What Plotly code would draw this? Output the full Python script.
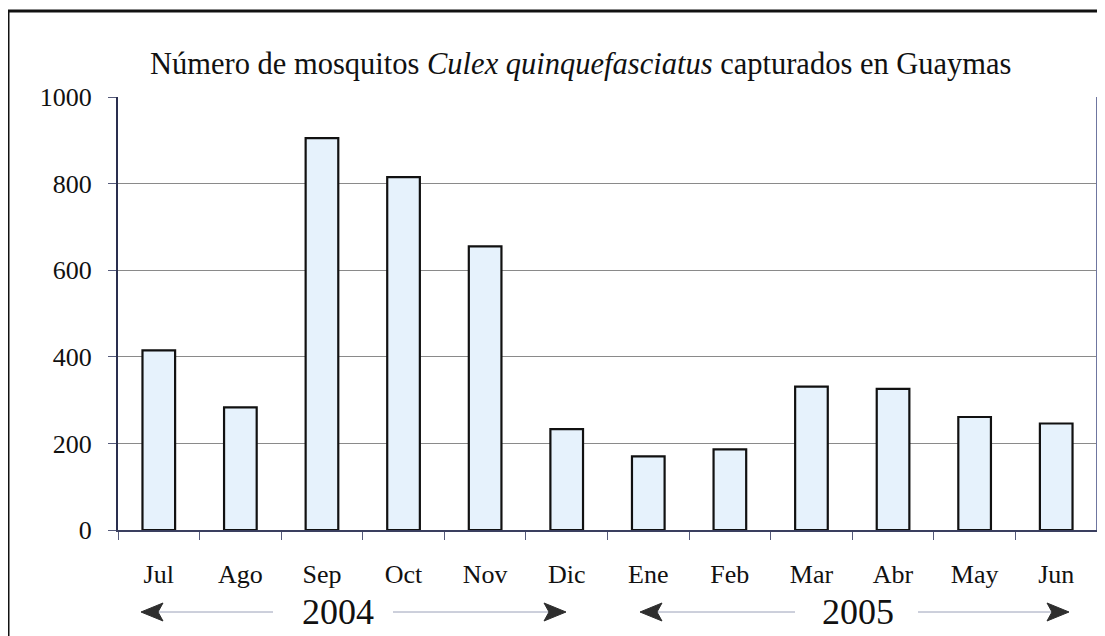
import plotly.graph_objects as go

months = ["Jul", "Ago", "Sep", "Oct", "Nov", "Dic", "Ene", "Feb", "Mar", "Abr", "May", "Jun"]
counts = [415, 283, 905, 815, 655, 233, 170, 186, 331, 326, 261, 246]
y_ticks = [0, 200, 400, 600, 800, 1000]
years = ["2004", "2005"]

# page has an 8px body margin; work in page pixels and convert
OFF = 8
W, H = 1105 - OFF, 636 - OFF
L, R, T, B = 118 - OFF, 8, 97 - OFF, 106
PW = W - L - R
PH = H - T - B

def px(x):
    return (x - OFF - L) / PW

def py(y):
    return (H - B - (y - OFF)) / PH

fig = go.Figure()
fig.add_trace(go.Bar(
    x=months, y=counts,
    marker=dict(color="#e6f2fc", line=dict(color="#111111", width=2.2)),
    showlegend=False,
))

FONT = "Liberation Serif, Times New Roman, serif"

shapes = []
# outer frame
shapes.append(dict(type="rect", xref="paper", yref="paper",
                   x0=px(8), x1=px(1130), y0=py(680), y1=py(11),
                   line=dict(color="#111111", width=3), fillcolor="rgba(0,0,0,0)", layer="above"))
# right border of plot
shapes.append(dict(type="line", xref="paper", yref="paper", x0=1, x1=1, y0=0, y1=1,
                   line=dict(color="#6f76a0", width=2)))

arrow_y = 612
line_col = "#9aa0b8"
head_col = "#2e2e2e"
segs = [(158, 273), (393, 552), (655, 795), (918, 1052)]
for a, b in segs:
    shapes.append(dict(type="line", xref="paper", yref="paper",
                       x0=px(a), x1=px(b), y0=py(arrow_y), y1=py(arrow_y),
                       line=dict(color=line_col, width=1)))

def tri(tip, direction):
    back = tip - 22 * direction
    pts = [(tip, arrow_y), (back, arrow_y - 9), (back + 5 * direction, arrow_y), (back, arrow_y + 9)]
    d = "M " + " L ".join(f"{px(x):.5f},{py(y):.5f}" for x, y in pts) + " Z"
    return dict(type="path", xref="paper", yref="paper", path=d,
                fillcolor=head_col, line=dict(color=head_col, width=1))

shapes.append(tri(141, -1))
shapes.append(tri(566, 1))
shapes.append(tri(640, -1))
shapes.append(tri(1069, 1))

annotations = [
    dict(text=years[0], xref="paper", yref="paper", x=px(338), y=py(arrow_y),
         showarrow=False, font=dict(family=FONT, size=36, color="#111111"),
         xanchor="center", yanchor="middle"),
    dict(text=years[1], xref="paper", yref="paper", x=px(858), y=py(arrow_y),
         showarrow=False, font=dict(family=FONT, size=36, color="#111111"),
         xanchor="center", yanchor="middle"),
    dict(text="Número de mosquitos <i>Culex quinquefasciatus</i> capturados en Guaymas",
         xref="paper", yref="paper", x=px(580), y=py(64),
         showarrow=False, font=dict(family=FONT, size=30.5, color="#111111"),
         xanchor="center", yanchor="middle"),
]

fig.update_layout(
    width=W, height=H,
    margin=dict(l=L, r=R, t=T, b=B),
    paper_bgcolor="white", plot_bgcolor="white",
    bargap=0.6,
    shapes=shapes,
    annotations=annotations,
    font=dict(family=FONT, color="#111111"),
)
fig.update_xaxes(
    type="category",
    tickson="boundaries",
    ticks="outside", ticklen=8, tickcolor="#555a7a",
    showline=True, linecolor="#3a3f5f", linewidth=1.5,
    tickfont=dict(family=FONT, size=26, color="#111111"),
    ticklabelstandoff=20,
    showgrid=False,
)
fig.update_yaxes(
    range=[0, 1000],
    tickvals=y_ticks,
    ticks="outside", ticklen=8, tickcolor="#555a7a",
    showline=True, linecolor="#2a2f4f", linewidth=2,
    showgrid=True, gridcolor="#8a8a8a", gridwidth=1,
    tickfont=dict(family=FONT, size=26, color="#111111"),
    ticklabelstandoff=11,
    zeroline=False,
)

fig.write_html("out.html")
